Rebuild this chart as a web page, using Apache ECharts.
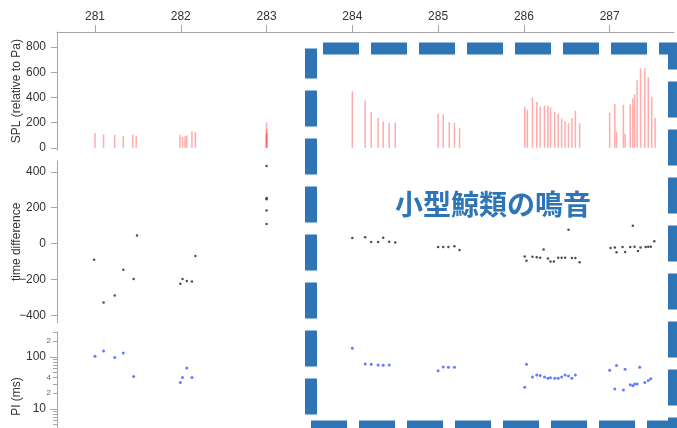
<!DOCTYPE html>
<html>
<head>
<meta charset="utf-8">
<script src="https://cdn.jsdelivr.net/npm/echarts@6/dist/echarts.min.js"></script>
<style>
  html, body { margin: 0; padding: 0; background: #fff; }
  #chart { width: 677px; height: 428px; }
</style>
</head>
<body>
<div id="chart"></div>
<script>
// x axis tick labels (top)
const xTicks = [281, 282, 283, 284, 285, 286, 287];

// SPL bars (top panel)
const splX = [281.00, 281.10, 281.23, 281.33, 281.44, 281.48, 281.99, 282.02, 282.05, 282.07, 282.13, 282.17,
  283.00, 283.00, 283.00, 283.00, 283.00,
  284.00, 284.15, 284.22, 284.30, 284.36, 284.43, 284.50,
  285.00, 285.06, 285.13, 285.19, 285.25,
  286.01, 286.04, 286.10, 286.15, 286.19, 286.24, 286.28, 286.31, 286.36, 286.40, 286.44, 286.48, 286.52, 286.56, 286.60, 286.65,
  287.00, 287.06, 287.08, 287.16, 287.18, 287.24, 287.27, 287.29, 287.32, 287.36, 287.41, 287.45, 287.49, 287.53];
const splY = [117, 106, 103, 95, 106, 95, 103, 87, 92, 97, 132, 124,
  201, 150, 117, 110, 100,
  448, 376, 286, 238, 209, 199, 199,
  273, 265, 204, 199, 156,
  326, 302, 400, 366, 329, 334, 334, 321, 284, 268, 233, 212, 196, 236, 294, 196,
  278, 350, 125, 342, 111, 344, 392, 424, 538, 631, 631, 562, 405, 238];
const splTicks = [0, 200, 400, 600, 800];

// time difference dots (middle panel)
const tdX = [280.99, 281.10, 281.23, 281.33, 281.45, 281.49, 281.995, 282.02, 282.07, 282.13, 282.17,
  283.00, 283.00, 283.00, 283.00, 283.00,
  284.00, 284.15, 284.22, 284.30, 284.36, 284.43, 284.50,
  285.00, 285.06, 285.12, 285.19, 285.25,
  286.01, 286.03, 286.10, 286.15, 286.19, 286.23, 286.28, 286.31, 286.35, 286.40, 286.44, 286.48, 286.52, 286.56, 286.60, 286.65,
  287.01, 287.06, 287.08, 287.15, 287.18, 287.24, 287.27, 287.29, 287.33, 287.36, 287.42, 287.45, 287.48, 287.52];
const tdY = [-89, -328, -289, -145, -197, 45, -223, -197, -208, -210, -69,
  432, 254, 247, 184, 110,
  31, 35, 9, 9, 33, 11, 7,
  -19, -19, -19, -15, -35,
  -71, -95, -73, -76, -78, -33, -82, -100, -100, -78, -78, -78, 78, -80, -80, -104,
  -24, -21, -48, -19, -46, -19, 100, -17, -41, -21, -19, -17, -17, 13];
const tdTicks = [-400, -200, 0, 200, 400];

// PI dots (bottom panel, log scale)
const piX = [281.00, 281.10, 281.23, 281.33, 281.45, 281.995, 282.02, 282.07, 282.13,
  284.00, 284.15, 284.22, 284.30, 284.36, 284.43,
  285.00, 285.06, 285.12, 285.19,
  286.01, 286.03, 286.10, 286.15, 286.19, 286.24, 286.28, 286.31, 286.36, 286.40, 286.44, 286.48, 286.52, 286.56, 286.60,
  287.00, 287.06, 287.08, 287.16, 287.18, 287.24, 287.27, 287.29, 287.32, 287.35, 287.41, 287.45, 287.48];
const piY = [103, 130, 97, 119, 42, 32, 40, 61, 40,
  147, 73, 72, 70, 69, 70,
  54, 64, 63, 63,
  26, 72, 41, 45, 44, 41, 39, 39.5, 39, 39, 41, 45, 43, 39, 45,
  55, 24, 68, 23, 58, 29, 28, 30, 30, 63, 32, 35, 38];
const piMajor = [10, 100];
const piMinorTicks = [2, 3, 4, 5, 6, 7, 8, 9, 20, 30, 40, 50, 60, 70, 80, 90, 200, 300];
const piMinorLabels = [20, 40, 200];

const zip = (xs, ys) => xs.map((x, i) => [x, ys[i]]);

const chart = echarts.init(document.getElementById('chart'));

const axisGray = '#a6a6a6';
const labelColor = '#333';
const font = 'Liberation Sans, Arial, sans-serif';
const xMin = 280.557;
const xMax = 287.75;

function hiddenX(gridIndex) {
  return {
    type: 'value', gridIndex, min: xMin, max: xMax,
    show: false, splitLine: { show: false }
  };
}

function leftAxis(extra) {
  return Object.assign({
    type: 'value',
    position: 'left',
    splitLine: { show: false },
    axisLine: { show: true, onZero: false, lineStyle: { color: axisGray, width: 1 } },
    axisTick: { show: true, length: 6, lineStyle: { color: axisGray } },
    axisLabel: { color: labelColor, fontSize: 12, fontFamily: font, margin: 11 },
    nameLocation: 'middle',
    nameRotate: 90,
    nameMoveOverlap: false,
    nameTextStyle: { color: labelColor, fontSize: 12, fontFamily: font }
  }, extra);
}

const option = {
  animation: false,
  backgroundColor: '#fff',
  grid: [
    { left: 57, right: 3, top: 32, height: 118.3, outerBoundsMode: 'none' },
    { left: 57, right: 3, top: 161, height: 161.7, outerBoundsMode: 'none' },
    { left: 57, right: 3, top: 332, height: 129, outerBoundsMode: 'none' }
  ],
  xAxis: [
    {
      type: 'value', gridIndex: 0, position: 'top', min: xMin, max: xMax,
      splitLine: { show: false },
      axisLine: { show: true, onZero: false, lineStyle: { color: axisGray, width: 1 } },
      axisTick: { show: true, length: 7, customValues: xTicks, lineStyle: { color: axisGray } },
      axisLabel: { customValues: xTicks, color: labelColor, fontSize: 12, fontFamily: font, margin: 9 }
    },
    hiddenX(1),
    hiddenX(2)
  ],
  yAxis: [
    leftAxis({
      gridIndex: 0, min: -20, max: 920,
      name: 'SPL (relative to Pa)', nameGap: 34,
      axisTick: { show: true, length: 6, customValues: splTicks, lineStyle: { color: axisGray } },
      axisLabel: { customValues: splTicks, color: labelColor, fontSize: 12, fontFamily: font, margin: 11 }
    }),
    leftAxis({
      gridIndex: 1, min: -440, max: 460,
      name: 'time difference', nameGap: 34,
      axisTick: { show: true, length: 6, customValues: tdTicks, lineStyle: { color: axisGray } },
      axisLabel: {
        customValues: tdTicks, color: labelColor, fontSize: 12, fontFamily: font, margin: 11,
        formatter: v => String(v).replace('-', '\u2212')
      }
    }),
    leftAxis({
      type: 'log', logBase: 10, gridIndex: 2, min: 1, max: 300,
      name: 'PI (ms)', nameGap: 34,
      axisTick: { show: true, length: 7, customValues: piMajor, lineStyle: { color: axisGray } },
      axisLabel: { customValues: piMajor, color: labelColor, fontSize: 12, fontFamily: font, margin: 11 }
    }),
    // minor ticks and small labels on the log axis
    leftAxis({
      type: 'log', logBase: 10, gridIndex: 2, min: 1, max: 300,
      axisLine: { show: false },
      axisTick: { show: true, length: 4, customValues: piMinorTicks, lineStyle: { color: axisGray } },
      axisLabel: {
        customValues: piMinorLabels, color: '#666', fontSize: 8, fontFamily: font, margin: 6,
        formatter: v => String(v)[0]
      }
    })
  ],
  graphic: [
    {
      type: 'rect', z: 100, silent: true,
      shape: { x: 311, y: 48.5, width: 363, height: 378 },
      style: { fill: 'none', stroke: '#2e75b6', lineWidth: 12, lineDash: [36, 12], lineDashOffset: 36 }
    },
    {
      type: 'text', z: 100, silent: true, x: 493, y: 204,
      style: {
        text: '小型鯨類の鳴音', fill: '#2e75b6',
        font: 'bold 28px "Noto Sans CJK JP", sans-serif',
        align: 'center', verticalAlign: 'middle'
      }
    }
  ],
  series: [
    {
      name: 'SPL', type: 'bar', xAxisIndex: 0, yAxisIndex: 0,
      barWidth: 1.5,
      itemStyle: { color: 'rgba(255, 90, 90, 0.5)' },
      data: zip(splX, splY)
    },
    {
      name: 'time difference', type: 'scatter', xAxisIndex: 1, yAxisIndex: 1,
      symbolSize: 2.5,
      itemStyle: { color: '#222' },
      data: zip(tdX, tdY)
    },
    {
      name: 'PI', type: 'scatter', xAxisIndex: 2, yAxisIndex: 2,
      symbolSize: 3,
      itemStyle: { color: '#3d5cff' },
      data: zip(piX, piY)
    }
  ]
};

chart.setOption(option);
</script>
</body>
</html>
